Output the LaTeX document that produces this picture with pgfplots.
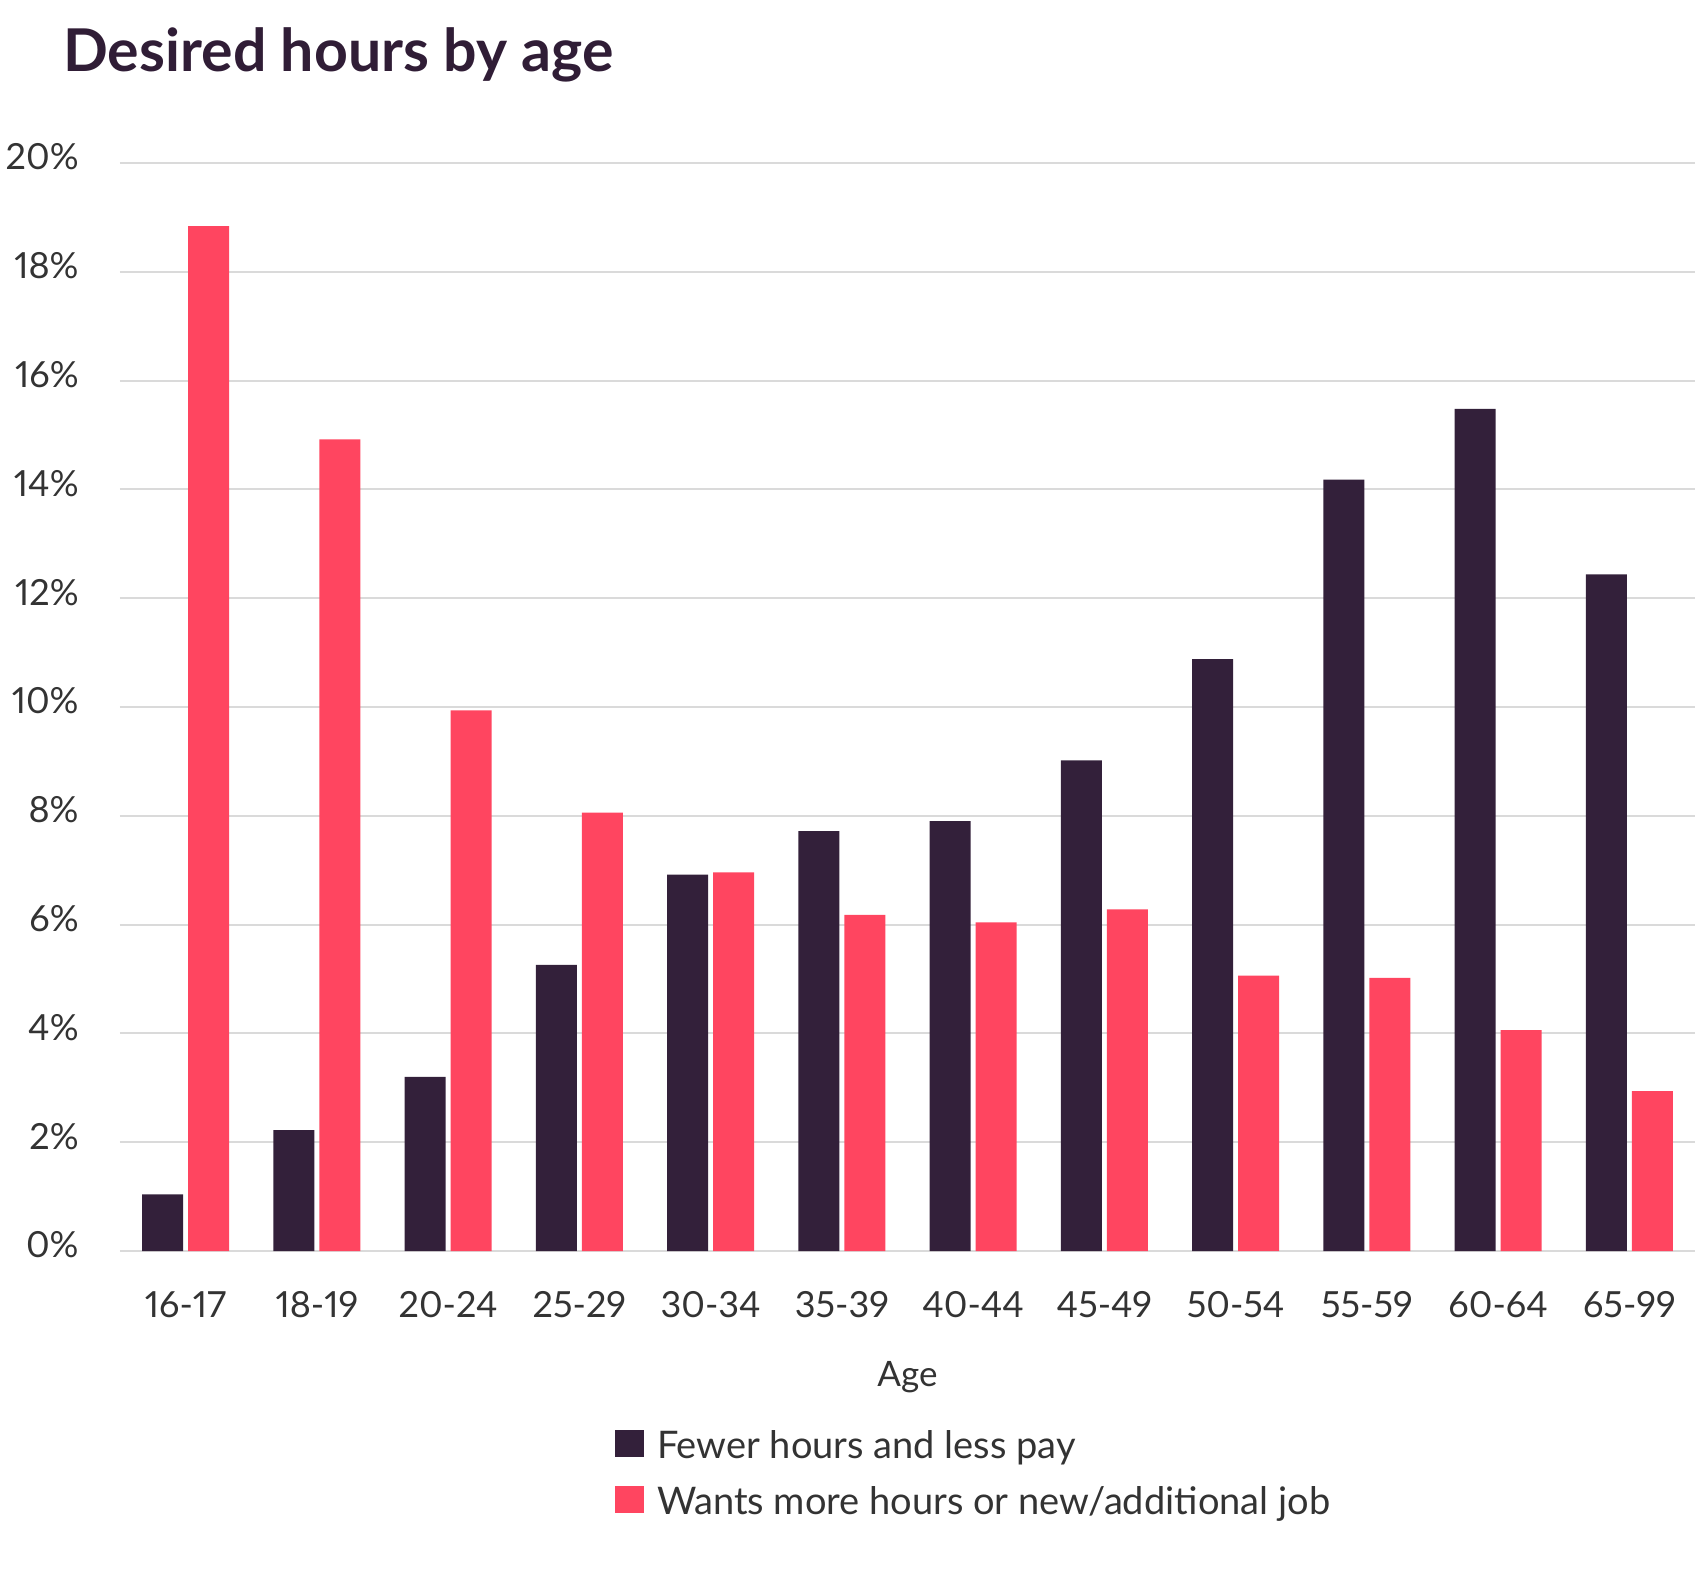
\documentclass[border=0pt]{standalone}
\usepackage{fontspec}
\setmainfont{Lato}[Numbers=Proportional]
\usepackage{pgfplots}
\pgfplotsset{compat=1.18}
\definecolor{darkcol}{HTML}{33203A}
\definecolor{redcol}{HTML}{FF4560}
\definecolor{textgray}{HTML}{333333}
\definecolor{gridgray}{HTML}{DADADA}
\definecolor{titlecol}{HTML}{301D36}
\begin{document}
\begin{tikzpicture}
\useasboundingbox (-60pt,-164pt) rectangle (793.5pt,625.5pt);
\begin{axis}[
  at={(0pt,0pt)}, anchor=south west,
  scale only axis, width=787.5pt, height=544pt,
  xmin=-0.5, xmax=11.5, ymin=0, ymax=20,
  axis line style={draw=none},
  major tick length=0pt,
  ymajorgrids, grid style={color=gridgray, line width=1pt},
  xtick={0,...,11},
  xticklabels={16-17,18-19,20-24,25-29,30-34,35-39,40-44,45-49,50-54,55-59,60-64,65-99},
  ytick={0,2,...,20},
  yticklabels={0\%,2\%,4\%,6\%,8\%,10\%,12\%,14\%,16\%,18\%,20\%},
  ticklabel style={font=\fontsize{18}{21.6}\selectfont, text=textgray},
  yticklabel style={anchor=east, inner sep=0pt, xshift=-20.5pt, yshift=3pt},
  xticklabel style={anchor=base, inner sep=0pt, yshift=-33pt},
  xlabel={Age},
  xlabel style={at={(axis description cs:0.5,0)}, anchor=base, inner sep=0pt, yshift=-67.5pt, font=\fontsize{17.5}{21}\selectfont, text=textgray},
  legend style={at={(axis description cs:0.3143,-0.1641)}, anchor=north west, draw=none, fill=none, inner sep=0pt, outer sep=0pt, row sep=10.5pt, column sep=6.5pt, font=\fontsize{19}{23}\selectfont, text=textgray, nodes={inner sep=0pt, text height=11pt, text depth=3.5pt}},
  legend cell align=left,
  legend image code/.code={\fill[#1] (0pt,-3pt) rectangle (14.5pt,10.5pt);},
]
\addplot[ybar, bar width=0.312, bar shift=-0.175, fill=darkcol, draw=none] coordinates {
(0,1.04) (1,2.22) (2,3.20) (3,5.26) (4,6.92) (5,7.72) (6,7.90) (7,9.02) (8,10.88) (9,14.18) (10,15.48) (11,12.44)};
\addlegendentry{Fewer hours and less pay}
\addplot[ybar, bar width=0.312, bar shift=0.175, fill=redcol, draw=none] coordinates {
(0,18.84) (1,14.92) (2,9.94) (3,8.06) (4,6.96) (5,6.18) (6,6.04) (7,6.28) (8,5.06) (9,5.02) (10,4.06) (11,2.94)};
\addlegendentry{Wants more hours or new/additional job}
\end{axis}
\node[anchor=base west, inner sep=0pt, font=\bfseries\fontsize{29.5}{35}\selectfont, text=titlecol] at (-28.5pt,589.5pt) {Desired hours by age};
\end{tikzpicture}
\end{document}
